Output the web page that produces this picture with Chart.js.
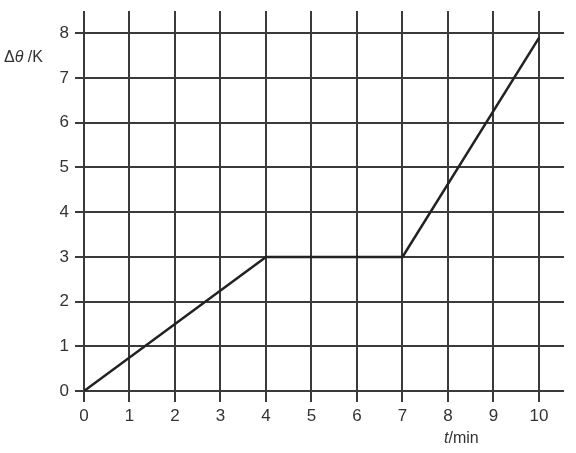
<!DOCTYPE html>
<html>
<head>
<meta charset="utf-8">
<script src="https://cdn.jsdelivr.net/npm/chart.js@4/dist/chart.umd.min.js"></script>
<style>
  html, body { margin: 0; padding: 0; background: #fff; }
  #wrap { width: 576px; height: 453px; }
</style>
</head>
<body>
<div id="wrap"><canvas id="chart" width="576" height="453"></canvas></div>
<script>
// Données
const timeMin = [0, 4, 7, 10];
const deltaTheta = [0, 3, 3, 7.9];
const xTicks = [0, 1, 2, 3, 4, 5, 6, 7, 8, 9, 10];
const yTicks = [0, 1, 2, 3, 4, 5, 6, 7, 8];

const gridColor = '#3a3a3a';
const textColor = '#333';
const fontFamily = '"Liberation Sans", Arial, sans-serif';

// Titres des axes, avec les symboles en italique
const axisTitles = {
  id: 'axisTitles',
  afterDraw(chart) {
    const ctx = chart.ctx;
    ctx.save();
    ctx.fillStyle = textColor;
    ctx.textBaseline = 'alphabetic';

    let x = 4;
    const yTop = 62;
    ctx.font = '16px ' + fontFamily;
    ctx.fillText('\u0394', x, yTop);
    x += ctx.measureText('\u0394').width;
    ctx.font = 'italic 16px ' + fontFamily;
    ctx.fillText('\u03b8', x, yTop);
    x += ctx.measureText('\u03b8').width;
    ctx.font = '16px ' + fontFamily;
    ctx.fillText(' /K', x, yTop);

    x = 444;
    const yBot = 443;
    ctx.font = 'italic 16px ' + fontFamily;
    ctx.fillText('t', x, yBot);
    x += ctx.measureText('t').width;
    ctx.font = '16px ' + fontFamily;
    ctx.fillText('/min', x, yBot);
    ctx.restore();
  }
};

new Chart(document.getElementById('chart'), {
  type: 'line',
  data: {
    datasets: [{
      data: timeMin.map((t, i) => ({ x: t, y: deltaTheta[i] })),
      borderColor: '#222',
      borderWidth: 2.5,
      pointRadius: 0,
      tension: 0,
      fill: false
    }]
  },
  options: {
    responsive: false,
    animation: false,
    layout: { padding: { top: 11, right: 12, left: 0, bottom: 0 } },
    plugins: {
      legend: { display: false },
      tooltip: { enabled: false }
    },
    scales: {
      x: {
        type: 'linear',
        min: 0,
        max: 10.55,
        afterFit: (scale) => {
          scale.height = 62;
          scale.paddingLeft = 0;
          scale.paddingRight = 0;
        },
        afterBuildTicks: (scale) => { scale.ticks = xTicks.map(v => ({ value: v })); },
        border: { display: false },
        grid: { color: gridColor, lineWidth: 2, tickLength: 11, tickColor: gridColor },
        ticks: {
          padding: 4,
          color: textColor,
          font: { family: fontFamily, size: 17 }
        }
      },
      y: {
        type: 'linear',
        min: 0,
        max: 8.5,
        afterFit: (scale) => {
          scale.width = 84;
          scale.paddingTop = 0;
          scale.paddingBottom = 0;
        },
        afterBuildTicks: (scale) => { scale.ticks = yTicks.map(v => ({ value: v })); },
        border: { display: false },
        grid: { color: gridColor, lineWidth: 2, tickLength: 9, tickColor: gridColor },
        ticks: {
          padding: 6,
          color: textColor,
          font: { family: fontFamily, size: 17 }
        }
      }
    }
  },
  plugins: [axisTitles]
});
</script>
</body>
</html>
